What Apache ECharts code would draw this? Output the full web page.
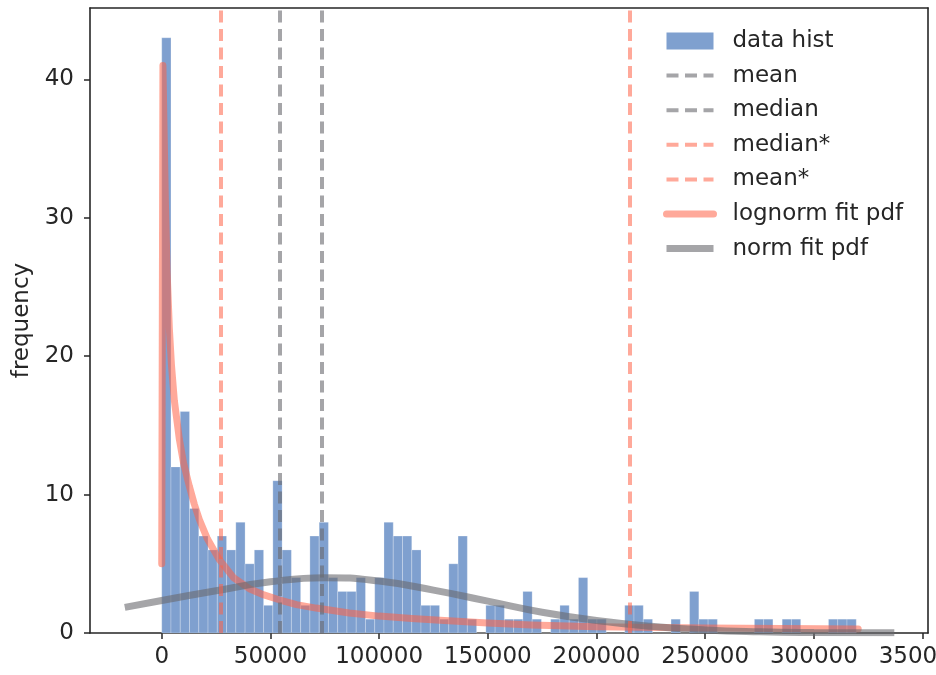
<!DOCTYPE html>
<html>
<head>
<meta charset="utf-8">
<script src="https://cdn.jsdelivr.net/npm/echarts@6/dist/echarts.min.js"></script>
<style>
html, body { margin: 0; padding: 0; background: #fff; }
#main { width: 936px; height: 675px; }
</style>
</head>
<body>
<div id="main"></div>
<script>
// histogram bins, all the same width, first one starts at 0
const binWidth = 4260;
const counts = [43, 12, 16, 9, 7, 6, 7, 6, 8, 5,
                6, 2, 11, 6, 4, 2, 7, 8, 4, 3,
                3, 4, 1, 4, 8, 7, 7, 6, 2, 2,
                1, 5, 7, 1, 0, 2, 2, 1, 1, 3,
                1, 0, 1, 2, 1, 4, 1, 1, 0, 0,
                2, 2, 1, 0, 0, 1, 0, 3, 1, 1,
                0, 0, 0, 0, 1, 1, 0, 1, 1, 0,
                0, 0, 1, 1, 1];

// vertical reference lines
const statNames = ['mean', 'median', 'median*', 'mean*'];
const statValues = [73400, 54500, 27000, 215200];

// fitted pdf curves (scaled to counts)
const lognormX = [0, 550, 1000, 1700, 2500, 3500, 4500, 5800, 8100, 10000,
                  12700, 15000, 17300, 21000, 26500, 33000, 40300, 47000, 54000, 62000,
                  71000, 86300, 100000, 115000, 128000, 150000, 170000, 200000, 250000, 320400];
const lognormY = [5, 41, 37, 31, 26, 22, 19.3, 16.8, 14, 12.3,
                  10.6, 9.3, 8.2, 6.8, 5.3, 4.0, 3.2, 2.75, 2.4, 2.05,
                  1.8, 1.45, 1.22, 1.05, 0.92, 0.72, 0.58, 0.46, 0.36, 0.29];
const normX = [-17000, 0, 25000, 50000, 75000, 100000, 125000, 150000, 175000,
               200000, 225000, 250000, 275000, 300000, 337000];
const normY = [1.85, 2.35, 3.05, 3.7, 4.0, 3.75, 3.1, 2.3, 1.5,
               0.9, 0.48, 0.22, 0.09, 0.035, 0.01];

const xTicks = [0, 50000, 100000, 150000, 200000, 250000, 300000, 350000];
const yTicks = [0, 10, 20, 30, 40];

const font = 'DejaVu Sans';
const fs = 23;
const ink = '#262626';
const orange = 'rgba(255,99,71,0.55)';
const gray = 'rgba(105,105,110,0.6)';
const dash = [12, 6.5];
const hidden = { color: 'rgba(0,0,0,0)', opacity: 0, borderWidth: 0 };

let chart = echarts.init(document.getElementById('main'));

let histData = counts.map((c, i) => [i * binWidth, (i + 1) * binWidth, c]);

let statSeries = statNames.map((name, i) => {
    let col = name.endsWith('*') ? orange : gray;
    return {
        name: name,
        type: 'line',
        data: [],
        symbol: 'none',
        color: col,
        lineStyle: { color: col, width: 4, type: dash },
        markLine: {
            silent: true,
            symbol: ['none', 'none'],
            label: { show: false },
            lineStyle: { color: col, width: 4, type: dash },
            data: [{ xAxis: statValues[i] }]
        },
        z: 3
    };
});

let option = {
    animation: false,
    textStyle: { fontFamily: font },
    grid: { left: 90, right: 8, top: 8, bottom: 42, outerBoundsMode: 'none', containLabel: false },
    legend: {
        orient: 'vertical',
        left: 658,
        top: 24,
        itemWidth: 47,
        itemHeight: 17,
        itemGap: 10.6,
        textStyle: { fontFamily: font, fontSize: fs, color: ink, lineHeight: 24, padding: [0, 0, 0, 14] },
        data: [
            { name: 'data hist', icon: 'rect' },
            { name: 'mean', lineStyle: { width: 4, type: dash }, itemStyle: hidden },
            { name: 'median', lineStyle: { width: 4, type: dash }, itemStyle: hidden },
            { name: 'median*', lineStyle: { width: 4, type: dash }, itemStyle: hidden },
            { name: 'mean*', lineStyle: { width: 4, type: dash }, itemStyle: hidden },
            { name: 'lognorm fit pdf', lineStyle: { width: 7 }, itemStyle: hidden },
            { name: 'norm fit pdf', lineStyle: { width: 7 }, itemStyle: hidden }
        ]
    },
    xAxis: [{
        type: 'value',
        min: -33000,
        max: 352500,
        splitLine: { show: false },
        axisLine: { show: true, onZero: false, lineStyle: { color: ink, width: 1.6 } },
        axisTick: { show: true, length: 6, lineStyle: { color: ink, width: 1.5 }, customValues: xTicks },
        axisLabel: { fontSize: fs, color: ink, margin: 13, fontFamily: font, customValues: xTicks,
                     formatter: v => String(v) }
    }, {
        type: 'value',
        position: 'top',
        min: -33000,
        max: 352500,
        splitLine: { show: false },
        axisLine: { show: true, onZero: false, lineStyle: { color: ink, width: 1.6 } },
        axisTick: { show: false },
        axisLabel: { show: false }
    }],
    yAxis: [{
        type: 'value',
        min: 0,
        max: 45.15,
        name: 'frequency',
        nameLocation: 'middle',
        nameGap: 55,
        nameTextStyle: { fontSize: fs, color: ink, fontFamily: font },
        splitLine: { show: false },
        axisLine: { show: true, onZero: false, lineStyle: { color: ink, width: 1.6 } },
        axisTick: { show: true, length: 6, lineStyle: { color: ink, width: 1.5 }, customValues: yTicks },
        axisLabel: { fontSize: fs, color: ink, margin: 16, fontFamily: font, customValues: yTicks }
    }, {
        type: 'value',
        position: 'right',
        min: 0,
        max: 45.15,
        splitLine: { show: false },
        axisLine: { show: true, onZero: false, lineStyle: { color: ink, width: 1.6 } },
        axisTick: { show: false },
        axisLabel: { show: false }
    }],
    series: [
        {
            name: 'data hist',
            type: 'custom',
            color: '#7fa0cf',
            itemStyle: { color: '#7fa0cf' },
            encode: { x: [0, 1], y: 2 },
            data: histData,
            renderItem: function (params, api) {
                let p0 = api.coord([api.value(0), api.value(2)]);
                let p1 = api.coord([api.value(1), 0]);
                return {
                    type: 'rect',
                    shape: { x: p0[0], y: p0[1], width: p1[0] - p0[0], height: p1[1] - p0[1] },
                    style: { fill: '#7fa0cf', stroke: 'rgba(255,255,255,0.3)', lineWidth: 0.8 }
                };
            },
            z: 1
        },
        ...statSeries,
        {
            name: 'lognorm fit pdf',
            type: 'line',
            symbol: 'none',
            smooth: false,
            color: orange,
            lineStyle: { color: orange, width: 7, cap: 'round', join: 'round' },
            data: lognormX.map((x, i) => [x, lognormY[i]]),
            z: 4
        },
        {
            name: 'norm fit pdf',
            type: 'line',
            symbol: 'none',
            smooth: true,
            color: gray,
            lineStyle: { color: gray, width: 7, cap: 'butt' },
            data: normX.map((x, i) => [x, normY[i]]),
            z: 4
        }
    ]
};

chart.setOption(option);
</script>
</body>
</html>
